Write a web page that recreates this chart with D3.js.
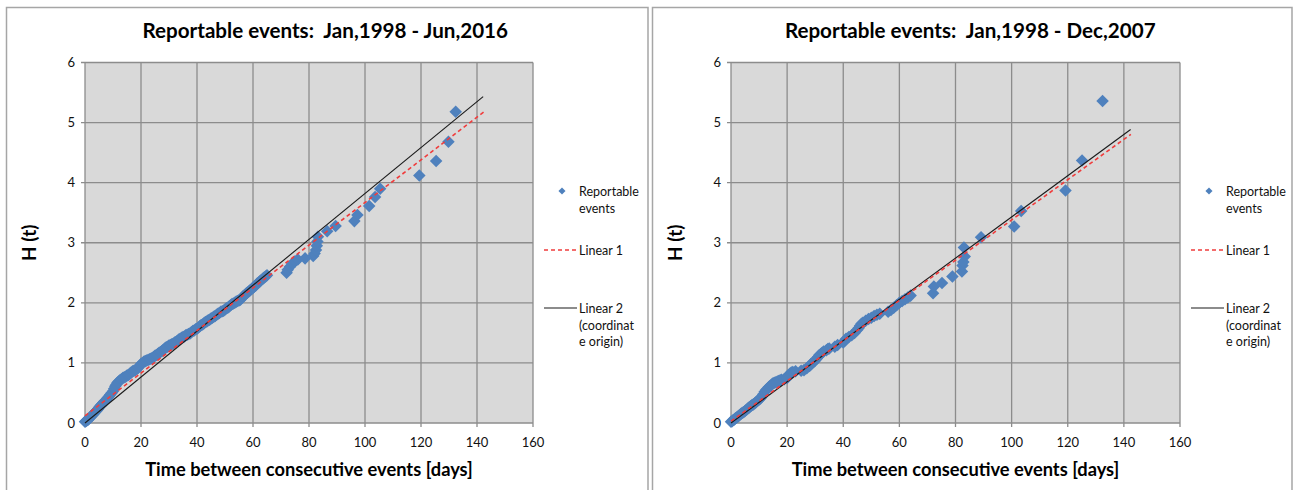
<!DOCTYPE html>
<html>
<head>
<meta charset="utf-8">
<script src="https://cdn.jsdelivr.net/npm/d3@7"></script>
<style>
  body { margin: 0; background: #fff; }
  text { font-family: Lato, "Open Sans", sans-serif; white-space: pre; }
</style>
</head>
<body>
<script>
const width = 1293;
const height = 490;

// tick values
const xTicks = [0, 20, 40, 60, 80, 100, 120, 140, 160];
const yTicks = [0, 1, 2, 3, 4, 5, 6];

const titles = ['Reportable events:  Jan,1998 - Jun,2016', 'Reportable events:  Jan,1998 - Dec,2007'];
const xTitle = 'Time between consecutive events [days]';
const yTitle = 'H (t)';
const legendLabels = [['Reportable', 'events'], ['Linear 1'], ['Linear 2', '(coordinat', 'e origin)']];

// [days, H(t)]
const events1998_2016 = [
  [0,0.02],[0.3,0.03],[0.6,0.04],[1,0.05],[1.4,0.07],[1.8,0.09],[2.2,0.11],[2.6,0.13],[3,0.15],[3.4,0.17],
  [3.8,0.19],[4.2,0.21],[4.6,0.23],[5,0.26],[5.4,0.28],[5.8,0.3],[6.2,0.32],[6.6,0.34],[7,0.36],[7.5,0.38],
  [8,0.41],[8.5,0.44],[9,0.47],[9.5,0.5],[10,0.53],[10.4,0.57],[10.8,0.61],[11.2,0.64],[11.6,0.67],[12,0.69],
  [12.5,0.71],[13,0.73],[13.5,0.75],[14,0.76],[14.5,0.77],[15,0.79],[15.5,0.8],[16,0.82],[16.5,0.84],[17,0.86],
  [17.5,0.87],[18,0.88],[18.5,0.9],[19,0.92],[19.5,0.95],[20,0.98],[20.5,1.0],[21,1.02],[21.5,1.03],[22,1.04],
  [22.5,1.05],[23,1.06],[23.5,1.07],[24,1.08],[24.5,1.1],[25,1.12],[25.5,1.13],[26,1.15],[26.5,1.17],[27,1.18],
  [27.5,1.2],[28,1.22],[28.5,1.24],[29,1.26],[29.5,1.27],[30,1.29],[30.5,1.3],[31,1.31],[31.5,1.32],[32,1.34],
  [32.5,1.35],[33,1.37],[33.5,1.39],[34,1.4],[34.5,1.42],[35,1.43],[35.5,1.44],[36,1.46],[36.5,1.47],[37,1.48],
  [37.5,1.49],[38,1.51],[38.5,1.53],[39,1.54],[39.5,1.56],[40,1.57],[40.5,1.59],[41,1.61],[41.5,1.63],[42,1.64],
  [42.5,1.66],[43,1.68],[43.5,1.69],[44,1.71],[44.5,1.72],[45,1.74],[45.5,1.75],[46,1.77],[46.5,1.78],[47,1.8],
  [47.5,1.82],[48,1.83],[48.5,1.85],[49,1.86],[49.5,1.87],[50,1.89],[50.5,1.91],[51,1.92],[51.5,1.94],[52,1.96],
  [52.5,1.98],[53,1.99],[53.5,2.0],[54,2.02],[54.5,2.03],[55,2.04],[55.5,2.05],[56,2.08],[56.5,2.11],[57,2.13],
  [57.5,2.15],[58,2.17],[58.5,2.19],[59,2.21],[59.5,2.23],[60,2.25],[60.5,2.27],[61,2.29],[61.5,2.32],[62,2.34],
  [62.5,2.36],[63,2.38],[63.5,2.4],[64,2.42],[64.5,2.44],[65,2.46],
  [72,2.5],[72.4,2.55],[73.2,2.6],[74,2.65],[75,2.69],[76,2.72],[78.6,2.74],[81.5,2.78],[82,2.82],[82.5,2.88],
  [82.8,2.95],[83,3.02],[83.2,3.1],[86.5,3.19],[89.5,3.28],[96.2,3.36],[97.3,3.46],[101.5,3.61],[103.6,3.76],
  [105.4,3.9],[119.4,4.12],[125.4,4.36],[129.8,4.68],[132.4,5.18]
];

// [days, H(t)]
const events1998_2007 = [
  [0,0.02],[0.4,0.03],[0.8,0.05],[1.2,0.06],[1.6,0.08],[2,0.09],[2.5,0.11],[3,0.13],[3.5,0.15],[4,0.17],
  [4.5,0.18],[5,0.2],[5.5,0.22],[6,0.24],[6.5,0.26],[7,0.28],[7.5,0.3],[8,0.31],[8.5,0.33],[9,0.35],
  [9.5,0.37],[10,0.39],[10.5,0.41],[11,0.44],[11.5,0.48],[12,0.52],[12.5,0.55],[13,0.57],[13.5,0.6],[14,0.62],
  [14.5,0.64],[15,0.66],[15.5,0.67],[16,0.68],[16.5,0.69],[17,0.7],[17.5,0.71],[18,0.72],[19,0.73],[20,0.75],
  [20.5,0.8],[21,0.82],[21.5,0.84],[22,0.85],[23,0.86],[25,0.87],[26,0.88],[27,0.91],[28,0.95],[28.5,0.98],
  [29,1.0],[29.5,1.02],[30,1.04],[30.5,1.07],[31,1.1],[31.5,1.13],[32,1.15],[32.5,1.17],[33,1.19],[34,1.21],
  [34.5,1.23],[35,1.24],[37,1.27],[38,1.3],[40,1.34],[40.5,1.37],[41,1.4],[42,1.43],[43,1.46],[44,1.5],
  [45,1.55],[45.5,1.58],[46,1.62],[46.5,1.65],[47,1.67],[48,1.7],[49,1.73],[50,1.75],[51,1.78],[52,1.8],
  [53,1.82],[56,1.85],[57,1.88],[58,1.92],[59,1.96],[60,2.0],[61,2.03],[62,2.06],[63,2.09],[64,2.12],
  [72,2.16],[72.3,2.27],[75.2,2.33],[78.9,2.44],[82.3,2.52],[82.5,2.62],[82.8,2.68],[83.3,2.77],[83,2.92],
  [89.1,3.09],[100.9,3.27],[103.4,3.53],[119.2,3.87],[125.1,4.37],[132.4,5.36]
];

// trend lines: [slope, intercept, xEnd]
const linear1 = [[0.0355, 0.12, 142.5], [0.0335, 0.03, 142.5]];
const linear2 = [[0.0382, 0, 142.2], [0.0343, 0, 142.4]];

const blue = '#4F81BD';
const grid = '#8C8C8C';

const svg = d3.select('body')
  .append('svg')
  .attr('width', width)
  .attr('height', height);

const panels = [
  { frame: [6.5, 7.5, 641.5], plot: [85, 533, 62.5, 423], data: events1998_2016 },
  { frame: [652.5, 7.5, 639.5], plot: [731, 1180, 62.5, 423], data: events1998_2007 }
];

const drawPanel = (selection, p, i) => {
  const [fx, fy, fw] = p.frame;
  const [x0, x1, y0, y1] = p.plot;
  const g = selection.append('g');

  g.append('rect')
    .attr('x', fx).attr('y', fy)
    .attr('width', fw).attr('height', height)
    .attr('fill', '#fff')
    .attr('stroke', '#A6A6A6')
    .attr('stroke-width', 1.5);

  const x = d3.scaleLinear().domain([0, 160]).range([x0, x1]);
  const y = d3.scaleLinear().domain([0, 6]).range([y1, y0]);

  g.append('rect')
    .attr('x', x0).attr('y', y0)
    .attr('width', x1 - x0).attr('height', y1 - y0)
    .attr('fill', '#D9D9D9');

  // gridlines
  g.append('g').selectAll('line')
    .data(xTicks)
    .join('line')
      .attr('x1', d => x(d)).attr('x2', d => x(d))
      .attr('y1', y0).attr('y2', y1 + 4)
      .attr('stroke', grid).attr('stroke-width', 1.3);
  g.append('g').selectAll('line')
    .data(yTicks)
    .join('line')
      .attr('x1', x0 - 4).attr('x2', x1)
      .attr('y1', d => y(d)).attr('y2', d => y(d))
      .attr('stroke', grid).attr('stroke-width', 1.3);

  // tick labels
  g.append('g').selectAll('text')
    .data(xTicks)
    .join('text')
      .attr('x', d => x(d)).attr('y', y1 + 24)
      .attr('text-anchor', 'middle')
      .attr('font-size', 13)
      .attr('fill', '#111')
      .text(d => d);
  g.append('g').selectAll('text')
    .data(yTicks)
    .join('text')
      .attr('x', x0 - 10).attr('y', d => y(d) + 4.5)
      .attr('text-anchor', 'end')
      .attr('font-size', 13)
      .attr('fill', '#111')
      .text(d => d);

  // trend lines
  const line = d3.line().x(d => x(d[0])).y(d => y(d[1]));
  const [s1, b1, e1] = linear1[i];
  const [s2, b2, e2] = linear2[i];

  // points
  g.append('g').selectAll('path')
    .data(p.data)
    .join('path')
      .attr('transform', d => `translate(${x(d[0])},${y(d[1])})`)
      .attr('d', d3.symbol(d3.symbolDiamond2, 100)())
      .attr('fill', blue);

  g.append('path')
    .attr('d', line([[0, b2], [e2, b2 + s2 * e2]]))
    .attr('fill', 'none').attr('stroke', '#1a1a1a').attr('stroke-width', 1.1);
  g.append('path')
    .attr('d', line([[0, b1], [e1, b1 + s1 * e1]]))
    .attr('fill', 'none').attr('stroke', '#F03C3C').attr('stroke-width', 1.6)
    .attr('stroke-dasharray', '4,3');

  // titles
  g.append('text')
    .attr('x', fx + fw / 2 - 2).attr('y', 38)
    .attr('text-anchor', 'middle')
    .attr('font-size', 20.6).attr('font-weight', 'bold')
    .text(titles[i]);
  g.append('text')
    .attr('x', (x0 + x1) / 2).attr('y', 476)
    .attr('text-anchor', 'middle')
    .attr('font-size', 18.3).attr('font-weight', 'bold')
    .text(xTitle);
  g.append('text')
    .attr('transform', `translate(${fx + 29},${(y0 + y1) / 2}) rotate(-90)`)
    .attr('text-anchor', 'middle')
    .attr('font-size', 19).attr('font-weight', 'bold')
    .text(yTitle);

  // legend
  const lx = x1 + 11;
  const leg = g.append('g').attr('font-size', 12.5).attr('fill', '#111');
  leg.append('path')
    .attr('transform', `translate(${lx + 18},191)`)
    .attr('d', d3.symbol(d3.symbolDiamond2, 32)())
    .attr('fill', blue);
  leg.append('line')
    .attr('x1', lx).attr('x2', lx + 33).attr('y1', 250).attr('y2', 250)
    .attr('stroke', '#F03C3C').attr('stroke-width', 1.6).attr('stroke-dasharray', '4,3');
  leg.append('line')
    .attr('x1', lx).attr('x2', lx + 33).attr('y1', 308).attr('y2', 308)
    .attr('stroke', '#1a1a1a').attr('stroke-width', 1.1);
  const legY = [196, 255, 313];
  legendLabels.forEach((lines, k) => {
    leg.append('g').selectAll('text')
      .data(lines)
      .join('text')
        .attr('x', lx + 35)
        .attr('y', (d, j) => legY[k] + j * 16.5)
        .text(d => d);
  });
};

panels.forEach((p, i) => svg.call(drawPanel, p, i));
</script>
</body>
</html>
